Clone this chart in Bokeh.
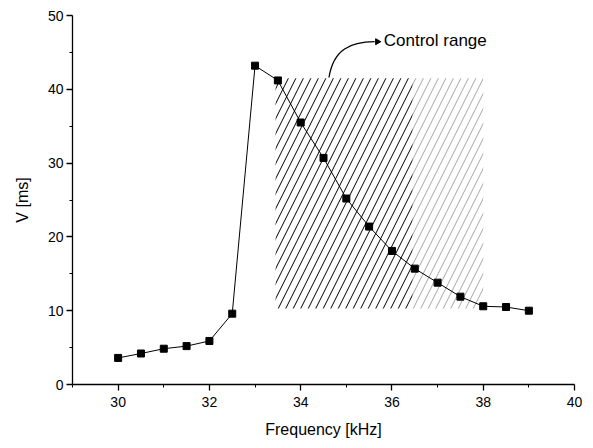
from bokeh.plotting import figure
from bokeh.embed import file_html
from bokeh.resources import INLINE
from bokeh.models import Range1d, FixedTicker, ColumnDataSource
from bokeh.core.properties import value

freq = [30, 30.5, 31, 31.5, 32, 32.5, 33, 33.5, 34, 34.5, 35, 35.5, 36, 36.5, 37, 37.5, 38, 38.5, 39]
volt = [3.6, 4.2, 4.85, 5.2, 5.9, 9.6, 43.2, 41.2, 35.5, 30.7, 25.2, 21.4, 18.1, 15.7, 13.8, 11.9, 10.6, 10.5, 10.0]

x_ticks = [30, 32, 34, 36, 38, 40]
y_ticks = [0, 10, 20, 30, 40, 50]

# control range box
ctrl_left, ctrl_mid, ctrl_right = 33.45, 36.45, 38.0
ctrl_bottom, ctrl_top = 10.3, 41.5
annot_text = "Control range"

FONT = "Liberation Sans"

p = figure(width=585, height=440, output_backend="svg", toolbar_location=None,
           x_range=Range1d(29, 40), y_range=Range1d(0, 50),
           min_border_left=72, min_border_right=11, min_border_top=15, min_border_bottom=54)
p.outline_line_color = None
p.grid.visible = False
p.background_fill_color = "white"

p.xaxis.ticker = FixedTicker(ticks=x_ticks, minor_ticks=[29, 31, 33, 35, 37, 39])
p.yaxis.ticker = FixedTicker(ticks=y_ticks, minor_ticks=[5, 15, 25, 35, 45])
for ax in (p.xaxis[0], p.yaxis[0]):
    ax.major_tick_in = 0
    ax.major_tick_out = 6
    ax.minor_tick_in = 0
    ax.minor_tick_out = 3
    ax.axis_line_color = "black"
    ax.axis_line_width = 1.3
    ax.major_tick_line_width = 1.3
    ax.major_label_text_font = FONT
    ax.major_label_text_font_size = "14px"
    ax.major_label_text_color = "black"
    ax.axis_label_text_font = FONT
    ax.axis_label_text_font_size = "16px"
    ax.axis_label_text_font_style = "normal"
    ax.axis_label_text_color = "black"
p.xaxis.axis_label = "Frequency [kHz]"
p.yaxis.axis_label = "V [ms]"
p.xaxis.major_label_standoff = 6
p.yaxis.major_label_standoff = 3
p.xaxis.axis_label_standoff = 11
p.yaxis.axis_label_standoff = 14

# hatched control range
p.quad(left=[ctrl_left], right=[ctrl_mid], bottom=[ctrl_bottom], top=[ctrl_top],
       fill_color=None, line_color=None, hatch_pattern="/", hatch_scale=15,
       hatch_color="black", hatch_weight=1)
p.quad(left=[ctrl_mid], right=[ctrl_right], bottom=[ctrl_bottom], top=[ctrl_top],
       fill_color=None, line_color=None, hatch_pattern="/", hatch_scale=15,
       hatch_color="black", hatch_weight=1, hatch_alpha=0.35)

src = ColumnDataSource(dict(x=freq, y=volt))
p.line("x", "y", source=src, line_color="black", line_width=1)
p.scatter("x", "y", source=src, marker="square", size=7, fill_color="black", line_color="black")

# annotation arrow
p.bezier(x0=[34.62], y0=[41.6], x1=[35.62], y1=[46.45], cx0=[34.72], cy0=[45.5], cx1=[35.1], cy1=[46.4],
         line_color="black", line_width=1.3)
p.scatter(x=[35.68], y=[46.45], marker="triangle", angle=-1.5708, size=6,
          fill_color="black", line_color="black")
p.text(x=[35.82], y=[46.6], text=[annot_text], text_font=value(FONT), text_font_size="17px",
       text_baseline="middle", text_align="left", text_color="black")

open("out.html", "w").write(file_html(p, INLINE))
